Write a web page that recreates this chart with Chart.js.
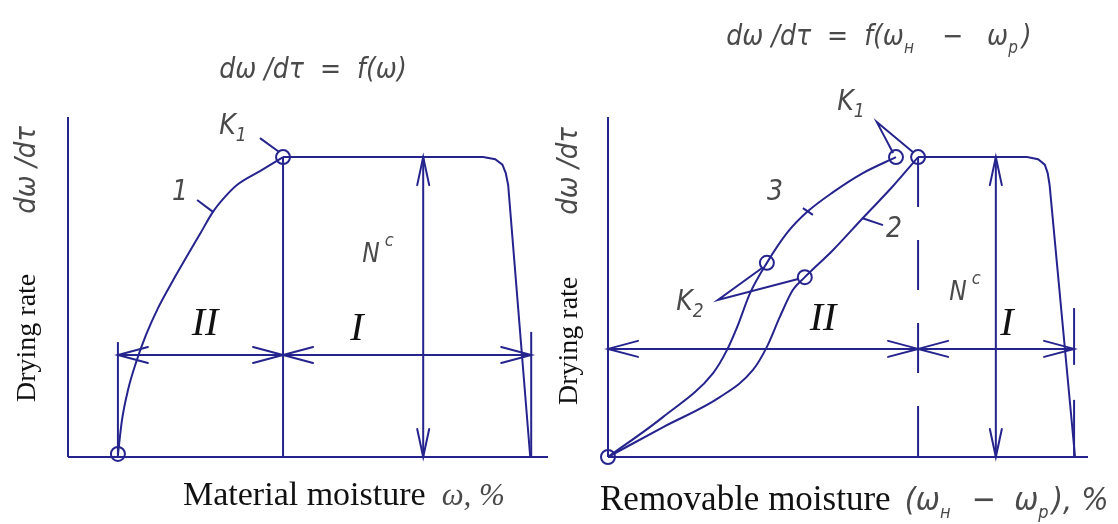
<!DOCTYPE html>
<html>
<head>
<meta charset="utf-8">
<script src="https://cdn.jsdelivr.net/npm/chart.js@4.4.1/dist/chart.umd.min.js"></script>
<style>
  html, body { margin: 0; padding: 0; background: #fff; }
  #wrap { position: relative; width: 1118px; height: 524px; overflow: hidden; }
  #leftChart { position: absolute; left: 0; top: 0; }
  #rightChart { position: absolute; left: 540px; top: 0; }
</style>
</head>
<body>
<div id="wrap">
  <canvas id="leftChart" width="560" height="524"></canvas>
  <canvas id="rightChart" width="578" height="524"></canvas>
</div>
<script>
// ---- left panel: drying rate vs material moisture (both axes in % of span) ----
const curve1X = [10.4, 11.25, 12.5, 14.2, 16.25, 18.75, 21.7, 24.8, 27.5, 30.2, 32.7, 35.2, 40.0, 44.8];
const curve1Y = [0.6, 10.9, 19.7, 27.9, 35.9, 43.8, 51.5, 59.1, 65.6, 72.1, 76.5, 80.0, 84.1, 88.2];
const plateauLX = [44.8, 86.5, 89.0, 90.5, 91.2, 91.7, 96.3];
const plateauLY = [88.2, 88.2, 87.6, 86.0, 83.5, 80.0, 0];
const criticalL = 44.8;   // K1 moisture
const rateMaxL = 88.2;    // N^c
const arrowLevelL = 30.0;
const periodStartL = 10.4, periodEndL = 96.5;
const ncPosL = 74.0;
const circlesLX = [10.4, 44.8];
const circlesLY = [0.9, 88.2];

// ---- right panel: drying rate vs removable moisture ----
const curve3X = [0, 11.5, 21.9, 24.8, 26.9, 29.6, 33.1, 37.3, 41.5, 46.9, 53.1, 60.0];
const curve3Y = [0, 11.8, 24.7, 31.5, 38.2, 48.2, 57.1, 65.9, 72.1, 77.9, 83.5, 88.2];
const curve2X = [0, 11.5, 23.3, 30.2, 33.1, 35.8, 38.5, 41.0, 46.9, 53.1, 59.2, 64.6];
const curve2Y = [0, 8.8, 17.6, 25.6, 32.4, 41.2, 49.1, 52.9, 60.9, 70.3, 79.4, 88.2];
const plateauRX = [64.6, 87.3, 89.6, 91.0, 91.6, 92.0, 97.3];
const plateauRY = [88.2, 88.2, 87.6, 86.0, 83.5, 80.0, 0];
const criticalR = 64.6;
const rateMaxR = 88.2;
const arrowLevelR = 31.8;
const periodEndR = 97.1;
const ncPosR = 80.8;
const circlesRX = [0, 33.1, 41.0, 60.0, 64.6];
const circlesRY = [0, 57.1, 52.9, 88.2, 88.2];

const NAVY = '#25248e';
const GRAY = '#4a4a4a';
const NARROW = '"Liberation Sans Narrow", "DejaVu Sans Condensed", "DejaVu Sans", sans-serif';
const SERIF = '"Liberation Serif", "DejaVu Serif", serif';

const pts = (xs, ys) => xs.map((v, i) => ({ x: v, y: ys[i] }));
const line = (xs, ys, extra) => Object.assign({
  data: pts(xs, ys), showLine: true, borderColor: NAVY, borderWidth: 2,
  pointRadius: 0, fill: false, tension: 0, clip: false
}, extra || {});
const smooth = { cubicInterpolationMode: 'monotone' };
const rings = (xs, ys) => ({
  data: pts(xs, ys), showLine: false, pointRadius: 7, pointStyle: 'circle',
  borderColor: NAVY, borderWidth: 2, backgroundColor: 'rgba(0,0,0,0)', clip: false
});

function drawRuns(ctx, x, y, runs, align) {
  let total = 0;
  runs.forEach(r => { ctx.font = r.f; r.w = ctx.measureText(r.t).width + (r.gap || 0); total += r.w; });
  let cx = align === 'left' ? x : x - total / 2;
  ctx.textBaseline = 'alphabetic';
  ctx.textAlign = 'left';
  runs.forEach(r => {
    ctx.font = r.f;
    ctx.fillStyle = r.c || GRAY;
    ctx.fillText(r.t, cx, y + (r.dy || 0));
    cx += r.w;
  });
}

const decor = {
  id: 'decor',
  afterDatasetsDraw(chart, args, opts) {
    const { ctx, scales: { x, y } } = chart;
    ctx.save();
    ctx.strokeStyle = NAVY;
    ctx.lineWidth = 2;
    ctx.lineCap = 'round';
    const back = { left: [1, 0], right: [-1, 0], up: [0, 1], down: [0, -1] };
    opts.arrows.forEach(([ax, ay, dir]) => {
      const px = x.getPixelForValue(ax), py = y.getPixelForValue(ay);
      const [bx, by] = back[dir];
      const len = bx ? 30 : 28, w = bx ? 8 : 6;
      ctx.beginPath();
      ctx.moveTo(px + bx * len - by * w, py + by * len + bx * w);
      ctx.lineTo(px, py);
      ctx.lineTo(px + bx * len + by * w, py + by * len - bx * w);
      ctx.stroke();
    });
    ctx.restore();
  },
  afterDraw(chart, args, opts) {
    const ctx = chart.ctx;
    ctx.save();
    opts.texts.forEach(t => drawRuns(ctx, t.x, t.y, t.runs, t.align));
    const yl = opts.yLabel;
    ctx.translate(yl.x, yl.y);
    ctx.rotate(-Math.PI / 2);
    drawRuns(ctx, 0, 0, yl.runs, 'left');
    ctx.restore();
  }
};

const it = s => 'italic ' + s + 'px ' + NARROW;
const roman = s => 'italic ' + s + 'px ' + SERIF;

function baseOptions(pad, arrows, texts, yLabel) {
  return {
    responsive: false,
    animation: false,
    events: [],
    layout: { padding: pad },
    scales: {
      x: { type: 'linear', min: 0, max: 100, display: false },
      y: { type: 'linear', min: 0, max: 100, display: false }
    },
    plugins: {
      legend: { display: false },
      tooltip: { enabled: false },
      decor: { arrows, texts, yLabel }
    }
  };
}

// left chart
new Chart(document.getElementById('leftChart'), {
  type: 'scatter',
  plugins: [decor],
  data: {
    datasets: [
      line([0, 0], [0, 100]),
      line([0, 100], [0, 0]),
      line(curve1X, curve1Y, smooth),
      line(plateauLX, plateauLY),
      line([criticalL, criticalL], [0, rateMaxL]),
      line([ncPosL, ncPosL], [0, rateMaxL]),
      line([periodStartL, periodEndL], [arrowLevelL, arrowLevelL]),
      line([periodStartL, periodStartL], [0, 33.8]),
      line([periodEndL, periodEndL], [0, 36.8]),
      line([40.0, 44.0], [93.8, 89.7]),
      line([26.9, 30.2], [75.6, 72.1]),
      rings(circlesLX, circlesLY)
    ]
  },
  options: baseOptions({ left: 68, right: 12, top: 117, bottom: 67 },
    [[periodStartL, arrowLevelL, 'left'], [criticalL, arrowLevelL, 'right'],
     [criticalL, arrowLevelL, 'left'], [periodEndL, arrowLevelL, 'right'],
     [ncPosL, rateMaxL, 'up'], [ncPosL, 0, 'down']],
    [
      { x: 313, y: 78, runs: [{ t: 'dω /dτ  =  f(ω)', f: it(28) }] },
      { x: 233, y: 134, runs: [{ t: 'K', f: it(28) }, { t: '1', f: it(19), dy: 7 }] },
      { x: 180, y: 200, runs: [{ t: '1', f: it(28) }] },
      { x: 205, y: 335, runs: [{ t: 'II', f: roman(40), c: '#111' }] },
      { x: 357, y: 340, runs: [{ t: 'I', f: roman(40), c: '#111' }] },
      { x: 378, y: 262, runs: [{ t: 'N', f: it(26) }, { t: ' c', f: it(18), dy: -16 }] },
      { x: 183, y: 505, align: 'left', runs: [
        { t: 'Material moisture', f: '34px ' + SERIF, c: '#111', gap: 16 },
        { t: 'ω, %', f: roman(31) }] }
    ],
    { x: 35, y: 402, runs: [
      { t: 'Drying rate', f: '28px ' + SERIF, c: '#111', gap: 60 },
      { t: 'dω /dτ', f: it(29) }] })
});

// right chart
new Chart(document.getElementById('rightChart'), {
  type: 'scatter',
  plugins: [decor],
  data: {
    datasets: [
      line([0, 0], [0, 100]),
      line([0, 100], [0, 0]),
      line(curve3X, curve3Y, smooth),
      line(curve2X, curve2Y, smooth),
      line(plateauRX, plateauRY),
      line([criticalR, criticalR], [rateMaxR, 0], { borderDash: [50, 33] }),
      line([ncPosR, ncPosR], [0, rateMaxR]),
      line([0, periodEndR], [arrowLevelR, arrowLevelR]),
      line([periodEndR, periodEndR], [27.1, 43.8]),
      line([97.1, 97.1], [0, 16.8]),
      line([59.4, 56.0, 63.5], [89.4, 98.5, 89.7]),
      line([32.1, 22.9, 39.8], [55.6, 46.2, 52.4]),
      line([40.6, 42.7], [73.2, 71.2]),
      line([52.9, 57.3], [70.3, 68.2]),
      rings(circlesRX, circlesRY)
    ]
  },
  options: baseOptions({ left: 68, right: 30, top: 117, bottom: 67 },
    [[0, arrowLevelR, 'left'], [criticalR, arrowLevelR, 'right'],
     [criticalR, arrowLevelR, 'left'], [periodEndR, arrowLevelR, 'right'],
     [ncPosR, rateMaxR, 'up'], [ncPosR, 0, 'down']],
    [
      { x: 339, y: 45, runs: [
        { t: 'dω /dτ  =  f(ω', f: it(28) }, { t: 'н', f: it(17), dy: 8, gap: 4 },
        { t: '   −   ω', f: it(28) }, { t: 'р', f: it(17), dy: 8, gap: 4 }, { t: ')', f: it(28) }] },
      { x: 311, y: 110, runs: [{ t: 'K', f: it(28) }, { t: '1', f: it(19), dy: 7 }] },
      { x: 235, y: 200, runs: [{ t: '3', f: it(28) }] },
      { x: 354, y: 237, runs: [{ t: '2', f: it(28) }] },
      { x: 150, y: 310, runs: [{ t: 'K', f: it(28) }, { t: '2', f: it(19), dy: 7 }] },
      { x: 283, y: 330, runs: [{ t: 'II', f: roman(40), c: '#111' }] },
      { x: 467, y: 335, runs: [{ t: 'I', f: roman(40), c: '#111' }] },
      { x: 425, y: 300, runs: [{ t: 'N', f: it(26) }, { t: ' c', f: it(18), dy: -16 }] },
      { x: 60, y: 510, align: 'left', runs: [
        { t: 'Removable moisture', f: '35px ' + SERIF, c: '#111', gap: 14 },
        { t: '(ω', f: it(32) }, { t: 'н', f: it(18), dy: 8, gap: 3 },
        { t: '  −  ω', f: it(32) }, { t: 'р', f: it(18), dy: 8, gap: 3 }, { t: '), %', f: it(32) }] }
    ],
    { x: 37, y: 405, runs: [
      { t: 'Drying rate', f: '28px ' + SERIF, c: '#111', gap: 62 },
      { t: 'dω /dτ', f: it(29) }] })
});
</script>
</body>
</html>
